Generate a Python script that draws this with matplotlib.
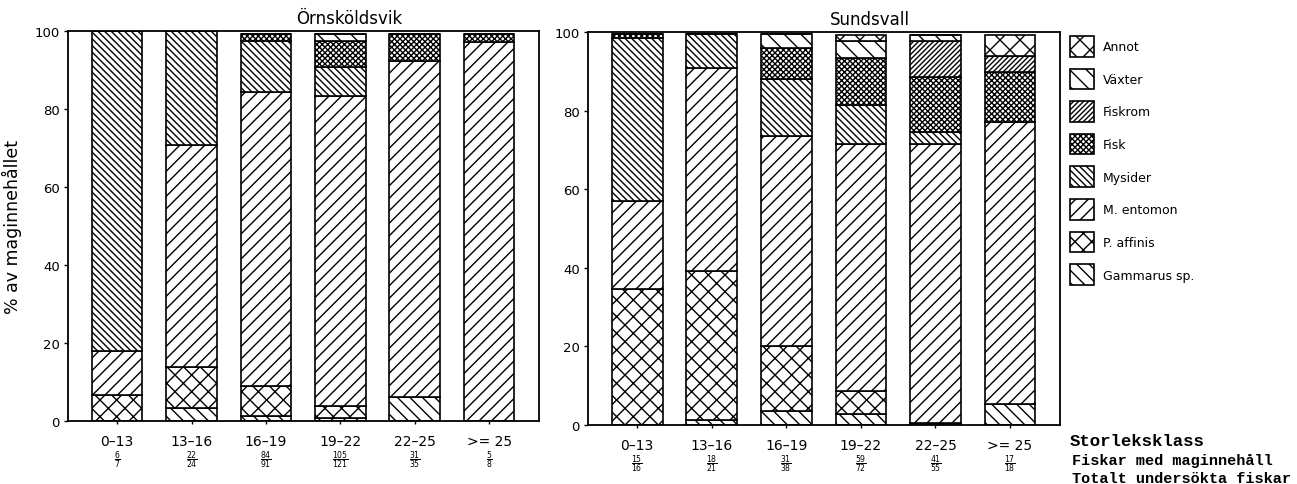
import matplotlib
matplotlib.use('Agg')
import matplotlib.pyplot as plt
import numpy as np
from matplotlib.path import Path
from matplotlib.backend_bases import GraphicsContextBase

# storleksklasser (cm) och födokategorier, nerifrån och upp i staplarna
klasser = ['0–13', '13–16', '16–19', '19–22', '22–25', '>= 25']
kategorier = ['Gammarus sp.', 'P. affinis', 'M. entomon', 'Mysider',
              'Fisk', 'Fiskrom', 'Växter', 'Annot']

# Örnsköldsvik, % av maginnehållet
orn_gammarus = [0, 3.3, 1.4, 0.8, 6.1, 0]
orn_affinis = [6.7, 10.6, 7.5, 3.1, 0, 0]
orn_entomon = [11.3, 56.9, 75.4, 79.5, 86.3, 97.1]
orn_mysider = [82.0, 29.2, 13.2, 7.3, 0, 0]
orn_fisk = [0, 0, 1.8, 6.8, 6.8, 2.2]
orn_fiskrom = [0, 0, 0, 0, 0, 0]
orn_vaxter = [0, 0, 0, 1.8, 0, 0]
orn_annot = [0, 0, 0, 0, 0, 0]
orn_med = [6, 22, 84, 105, 31, 5]
orn_tot = [7, 24, 91, 121, 35, 8]

# Sundsvall
sun_gammarus = [0, 1.3, 3.5, 2.8, 0.5, 5.3]
sun_affinis = [34.6, 38.0, 16.5, 5.9, 0, 0]
sun_entomon = [22.5, 51.5, 53.6, 62.8, 71.0, 71.7]
sun_mysider = [41.5, 8.7, 14.4, 9.8, 3.0, 0]
sun_fisk = [1.0, 0, 8.0, 12.2, 14.0, 12.7]
sun_fiskrom = [0, 0, 0, 0, 9.3, 4.3]
sun_vaxter = [0, 0, 3.5, 4.3, 1.5, 0]
sun_annot = [0, 0, 0, 1.5, 0, 5.3]
sun_med = [15, 18, 31, 59, 41, 17]
sun_tot = [16, 21, 38, 72, 55, 18]

orn = [orn_gammarus, orn_affinis, orn_entomon, orn_mysider,
       orn_fisk, orn_fiskrom, orn_vaxter, orn_annot]
sun = [sun_gammarus, sun_affinis, sun_entomon, sun_mysider,
       sun_fisk, sun_fiskrom, sun_vaxter, sun_annot]

hatches = {'Gammarus sp.': '\\\\', 'P. affinis': 'x', 'M. entomon': '/',
           'Mysider': '\\\\\\', 'Fisk': 'xx', 'Fiskrom': '//',
           'Växter': '\\', 'Annot': 'X'}
# density per hatch string (count*density must be even, else seams)
hatch_density = {'\\\\': 8, 'x': 12, '/': 16, '\\\\\\': 10, 'xx': 18,
                 '//': 20, '\\': 12, 'X': 10}

_orig_hatch_path = GraphicsContextBase.get_hatch_path


def _hatch_path(self, density=6.0):
    h = self.get_hatch()
    if h in hatch_density:
        return Path.hatch(h, hatch_density[h])
    return _orig_hatch_path(self, density)


GraphicsContextBase.get_hatch_path = _hatch_path

plt.rcParams['hatch.linewidth'] = 1.0
plt.rcParams['font.family'] = 'DejaVu Sans'

fig = plt.figure(figsize=(12.97, 4.85), dpi=100)
ax1 = fig.add_axes([68 / 1297, 1 - 422 / 485, 471 / 1297, 390 / 485])
ax2 = fig.add_axes([588 / 1297, 1 - 426 / 485, 472 / 1297, 393 / 485])


def draw_panel(ax, data, title, med, tot):
    x = np.arange(len(klasser))
    bottom = np.zeros(len(klasser))
    for name, vals in zip(kategorier, data):
        ax.bar(x, vals, 0.68, bottom=bottom, color='white', edgecolor='black',
               hatch=hatches[name], linewidth=1.2, label=name)
        bottom += np.array(vals)
    ax.set_xlim(-0.66, 5.67)
    ax.set_ylim(0, 100)
    ax.set_yticks([0, 20, 40, 60, 80, 100])
    ax.set_xticks(x)
    ax.set_xticklabels(klasser, fontsize=10)
    ax.tick_params(axis='x', length=2.5, width=1, pad=7)
    ax.tick_params(axis='y', length=3, width=1, pad=3, labelsize=9.5)
    for s in ax.spines.values():
        s.set_linewidth(1.3)
    for xi, m, t in zip(x, med, tot):
        ax.text(xi, -0.097, r'$\frac{%d}{%d}$' % (m, t),
                transform=ax.get_xaxis_transform(), ha='center', va='center',
                fontsize=8)
    ax.text(0.597, 1.033, title, transform=ax.transAxes, ha='center',
            va='center', fontsize=12)


draw_panel(ax1, orn, 'Örnsköldsvik', orn_med, orn_tot)
draw_panel(ax2, sun, 'Sundsvall', sun_med, sun_tot)

ax1.set_ylabel('% av maginnehållet', fontsize=12.5)
ax1.yaxis.set_label_coords(-0.098, 0.5)

handles, labels = ax2.get_legend_handles_labels()
fs = 9
px = fs * 100 / 72
fig.legend(handles[::-1], labels[::-1], loc='upper left',
           bbox_to_anchor=(1070 / 1297, 1 - 37 / 485), frameon=False,
           fontsize=fs, borderpad=0, borderaxespad=0,
           handlelength=24 / px, handleheight=27 / px,
           labelspacing=12 / px, handletextpad=9 / px)

fig.text(1070 / 1297, 1 - 442 / 485, 'Storleksklass', family='Liberation Mono',
         fontsize=12.5, va='center', weight='bold')
fig.text(1072 / 1297, 1 - 461 / 485, 'Fiskar med maginnehåll',
         family='Liberation Mono', fontsize=11, va='center', weight='bold')
fig.text(1072 / 1297, 1 - 479 / 485, 'Totalt undersökta fiskar',
         family='Liberation Mono', fontsize=11, va='center', weight='bold')

fig.savefig('out.png', dpi=100)
